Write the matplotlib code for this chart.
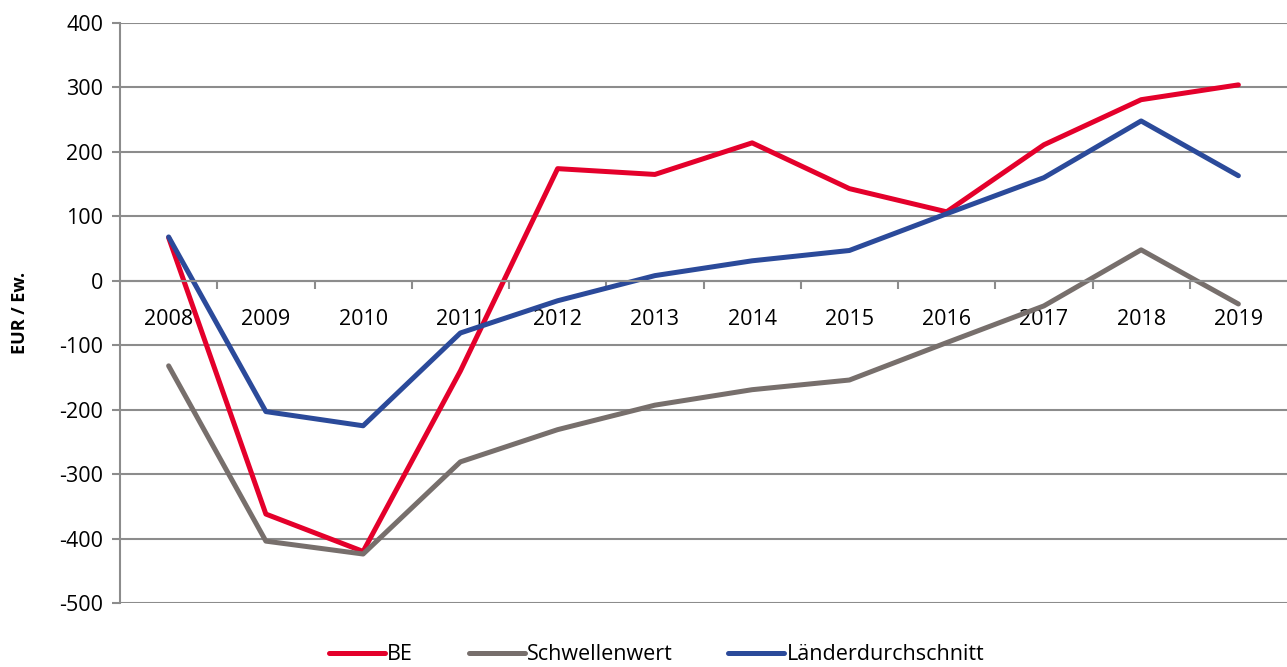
import numpy as np
import matplotlib.pyplot as plt
from matplotlib.ticker import FixedLocator

plt.rcParams['font.family'] = ['Open Sans', 'DejaVu Sans']
plt.rcParams['axes.unicode_minus'] = False

years = ['2008', '2009', '2010', '2011', '2012', '2013',
         '2014', '2015', '2016', '2017', '2018', '2019']
be = [67, -362, -420, -140, 174, 165, 214, 143, 107, 211, 281, 304]
schwelle = [-132, -404, -424, -281, -231, -193, -169, -154, -96, -39, 48, -36]
laender = [68, -203, -225, -81, -31, 8, 31, 47, 104, 160, 248, 163]

fig = plt.figure(figsize=(12.87, 6.67), dpi=100)
ax = fig.add_axes([120/1287, 1-603/667, 1-120/1287, (603-23)/667])

x = np.arange(len(years))
ax.plot(x, be, color='#E4002B', lw=3.6, label='BE', solid_capstyle='round')
ax.plot(x, schwelle, color='#776F6C', lw=3.6, label='Schwellenwert', solid_capstyle='round')
ax.plot(x, laender, color='#2B4A9A', lw=3.6, label='Länderdurchschnitt', solid_capstyle='round')

ax.set_xlim(-0.5, len(years) - 0.5)
ax.set_ylim(-500, 400)
ax.set_yticks(np.arange(-500, 401, 100))
ax.yaxis.grid(True, color='#8C8C8C', lw=1.5)
ax.set_axisbelow(True)

ax.set_xticks(x)
ax.set_xticklabels(years)
ax.xaxis.set_minor_locator(FixedLocator(np.arange(0.5, len(years) - 1, 1)))
ax.tick_params(axis='x', which='major', length=0, pad=20, labelsize=15.5)
ax.tick_params(axis='x', which='minor', length=6, width=1.5, color='#8C8C8C', direction='out')
ax.tick_params(axis='y', length=6, width=1.5, color='#8C8C8C', labelsize=15.5, pad=6)

for s in ['top', 'right']:
    ax.spines[s].set_visible(False)
ax.spines['bottom'].set_position(('data', 0))
ax.spines['bottom'].set_color('#8C8C8C')
ax.spines['bottom'].set_linewidth(1.5)
ax.spines['left'].set_color('#8C8C8C')
ax.spines['left'].set_linewidth(1.5)

ax.set_ylabel('EUR / Ew.', fontsize=13, fontweight='bold', labelpad=22)

fig.legend(loc='center', bbox_to_anchor=(0.51, 0.018), ncol=3, frameon=False,
           fontsize=15.5, handlelength=2.6, handletextpad=0.1, columnspacing=2.6)

fig.savefig('out.png', dpi=100)
